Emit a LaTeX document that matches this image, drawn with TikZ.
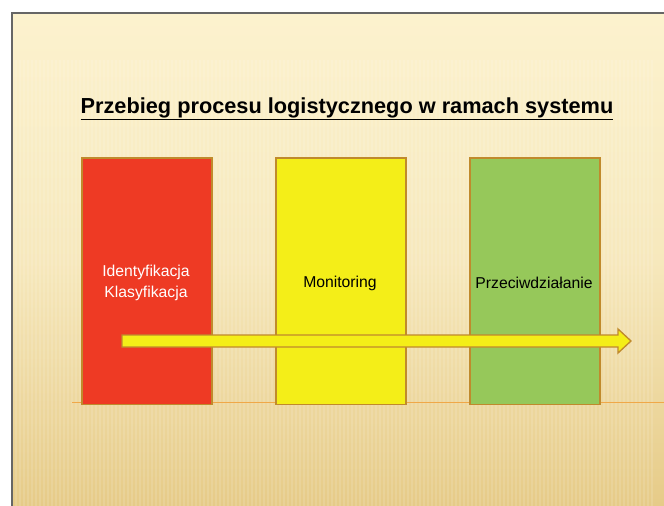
\documentclass[tikz,border=0pt]{standalone}
\usepackage{fontspec}
\setmainfont{Liberation Sans}
\definecolor{boxedge}{HTML}{C08A2C}
\definecolor{redfill}{HTML}{EE3A24}
\definecolor{yelfill}{HTML}{F4EE18}
\definecolor{grnfill}{HTML}{96C85A}
\definecolor{bgtop}{HTML}{FCF2CE}
\definecolor{bgbot}{HTML}{E6CB88}
\definecolor{lineor}{HTML}{F0A848}
\begin{document}
\begin{tikzpicture}[x=0.75pt,y=-0.75pt,
  stage/.style={draw=boxedge,line width=1.2pt,minimum width=97.5pt,minimum height=185pt,inner sep=0pt,anchor=north west},
  lbl/.style={font=\fontsize{11.8}{15.8}\selectfont,align=center}]
\useasboundingbox (0,0) rectangle (664,506);
\fill[white] (0,0) rectangle (664,506);
\shade[top color=bgtop,bottom color=bgbot,middle color=bgtop!75!bgbot] (12,13) rectangle (664,506);
\foreach \i in {0,...,160} {
  \draw[white,opacity=0.12,line width=1pt] ({12+4*\i},60) -- ({12+4*\i},506);
}
\draw[gray!80!black,line width=1.5pt] (12,506) -- (12,13) -- (664,13);
\draw[lineor,line width=0.6pt] (72,402) -- (664,402);
\node[font=\fontsize{16.3}{19}\selectfont\bfseries] (title) at (347,109) {\underline{Przebieg procesu logistycznego w ramach systemu}};
\node[stage,fill=redfill] (red) at (81,157) {};
\node[stage,fill=yelfill] (yel) at (275,157) {};
\node[stage,fill=grnfill] (grn) at (469,157) {};
\node[lbl,text=white] (t1) at (146,283) {Identyfikacja\\Klasyfikacja};
\node[lbl] (t2) at (340,283) {Monitoring};
\node[lbl] (t3) at (534,283) {Przeciwdziałanie};
\draw[boxedge,fill=yelfill,line width=1pt,line join=miter]
  (122,335) -- (618,335) -- (618,329) -- (631,341) -- (618,353) -- (618,347) -- (122,347) -- cycle;
\end{tikzpicture}
\end{document}
